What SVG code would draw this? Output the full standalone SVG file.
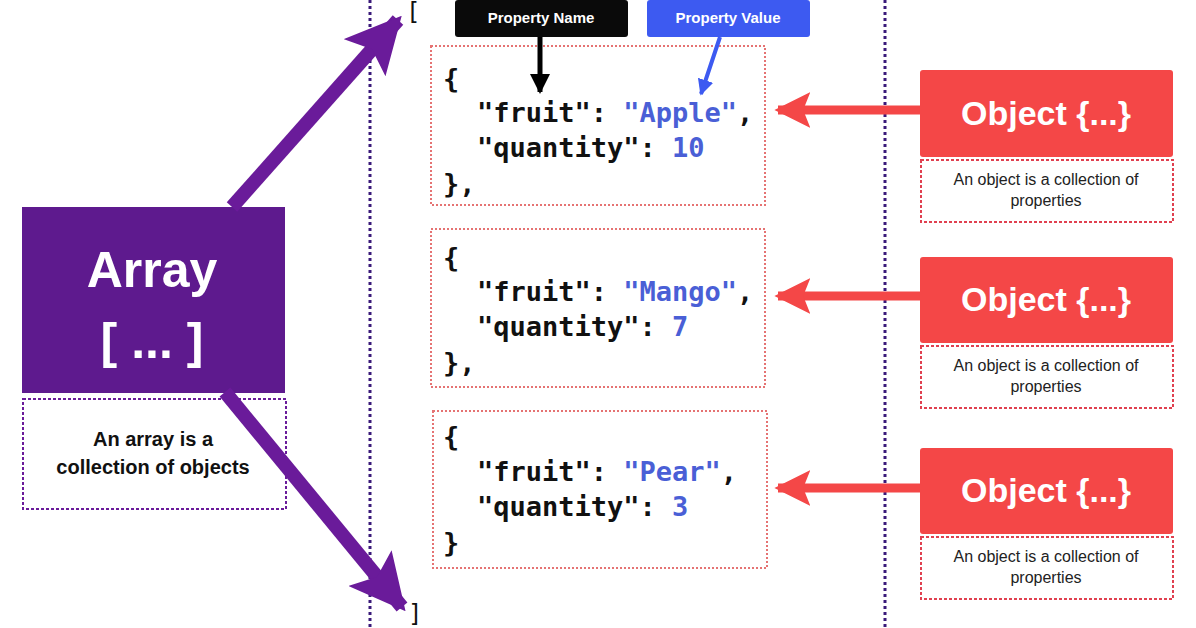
<svg xmlns="http://www.w3.org/2000/svg" width="1196" height="628" viewBox="0 0 1196 628">
<defs>
<style>
.code{font-family:"DejaVu Sans Mono","Liberation Mono",monospace;font-weight:bold;font-size:27px;fill:#111}
.val{fill:#4a5fd6}
.cbox{fill:#fff;stroke:#e57373;stroke-width:2;stroke-dasharray:2 2}
.obj{fill:#f44747}
.objt{font-family:"Liberation Sans",Arial,sans-serif;font-weight:bold;font-size:34px;fill:#fff;text-anchor:middle}
.cap{font-family:"Liberation Sans",Arial,sans-serif;font-size:16px;fill:#222;text-anchor:middle}
.capbox{fill:#fff;stroke:#e04050;stroke-width:2;stroke-dasharray:3 2}
.vline{stroke:#3a1a7a;stroke-width:3;stroke-dasharray:3 3}
.red{stroke:#f44747;stroke-width:9;fill:none}
.pur{stroke:#6a1b9a;stroke-width:14;fill:none}
.lbl{font-family:"Liberation Sans",Arial,sans-serif;font-weight:bold;font-size:15px;fill:#fff;text-anchor:middle}
</style>
<marker id="ar" viewBox="0 0 10 10" refX="9" refY="5" markerWidth="4" markerHeight="4" orient="auto"><path d="M0,0L10,5L0,10L2,5z" fill="#f44747"/></marker>
<marker id="ap" viewBox="0 0 10 10" refX="9" refY="5" markerWidth="4" markerHeight="4" orient="auto"><path d="M0,0L10,5L0,10L2,5z" fill="#6a1b9a"/></marker>
<marker id="ak" viewBox="0 0 10 10" refX="9" refY="5" markerWidth="4" markerHeight="4" orient="auto"><path d="M0,0L10,5L0,10z" fill="#000"/></marker>
<marker id="ab" viewBox="0 0 10 10" refX="9" refY="5" markerWidth="4" markerHeight="4" orient="auto"><path d="M0,0L10,5L0,10z" fill="#3d5af1"/></marker>
</defs>
<rect width="1196" height="628" fill="#fff"/>
<line class="vline" x1="370" y1="0" x2="370" y2="628"/>
<line class="vline" x1="885" y1="0" x2="885" y2="628"/>
<text x="406" y="20" class="code" style="font-weight:normal;font-size:24px">[</text>
<text x="408" y="622" class="code" style="font-weight:normal;font-size:24px">]</text>

<g id="array">
<rect x="22" y="207" width="263" height="186" fill="#5e1a8e"/>
<text x="152" y="287" class="objt" style="font-size:50px">Array</text>
<text x="152" y="358" class="objt" style="font-size:50px">[ ... ]</text>
<rect x="23" y="399" width="263" height="110" fill="#fff" stroke="#6a1b9a" stroke-width="2" stroke-dasharray="3 2"/>
<text x="153" y="446" class="cap" style="font-size:20px;fill:#111;font-weight:bold">An array is a</text>
<text x="153" y="474" class="cap" style="font-size:20px;fill:#111;font-weight:bold">collection of objects</text>
</g>

<g id="propname"><rect x="455" y="0" width="173" height="37" rx="3" fill="#0a0a0a"/><text x="541" y="23" class="lbl">Property Name</text></g>
<g id="propvalue"><rect x="647" y="0" width="163" height="37" rx="3" fill="#3d5af1"/><text x="728" y="23" class="lbl">Property Value</text></g>

<g id="obj1code">
<rect class="cbox" x="431" y="46" width="334" height="159"/>
<text class="code" x="443" y="88">{</text>
<text class="code" x="477" y="122">"fruit": <tspan class="val">"Apple"</tspan>,</text>
<text class="code" x="477" y="157">"quantity": <tspan class="val">10</tspan></text>
<text class="code" x="443" y="193">},</text>
</g>
<g id="obj2code">
<rect class="cbox" x="431" y="229" width="334" height="158"/>
<text class="code" x="443" y="267">{</text>
<text class="code" x="477" y="301">"fruit": <tspan class="val">"Mango"</tspan>,</text>
<text class="code" x="477" y="336">"quantity": <tspan class="val">7</tspan></text>
<text class="code" x="443" y="372">},</text>
</g>
<g id="obj3code">
<rect class="cbox" x="433" y="411" width="334" height="157"/>
<text class="code" x="443" y="446">{</text>
<text class="code" x="477" y="481">"fruit": <tspan class="val">"Pear"</tspan>,</text>
<text class="code" x="477" y="516">"quantity": <tspan class="val">3</tspan></text>
<text class="code" x="443" y="552">}</text>
</g>

<g id="object1">
<rect class="obj" x="920" y="70" width="253" height="87" rx="3"/>
<text class="objt" x="1046" y="125">Object {...}</text>
<rect class="capbox" x="921" y="160" width="252" height="62"/>
<text class="cap" x="1046" y="185">An object is a collection of</text>
<text class="cap" x="1046" y="206">properties</text>
</g>
<g id="object2">
<rect class="obj" x="920" y="257" width="253" height="86" rx="3"/>
<text class="objt" x="1046" y="311">Object {...}</text>
<rect class="capbox" x="921" y="346" width="252" height="62"/>
<text class="cap" x="1046" y="371">An object is a collection of</text>
<text class="cap" x="1046" y="392">properties</text>
</g>
<g id="object3">
<rect class="obj" x="920" y="448" width="253" height="86" rx="3"/>
<text class="objt" x="1046" y="502">Object {...}</text>
<rect class="capbox" x="921" y="537" width="252" height="62"/>
<text class="cap" x="1046" y="562">An object is a collection of</text>
<text class="cap" x="1046" y="583">properties</text>
</g>

<g id="connectors">
<line class="pur" x1="232" y1="207" x2="398" y2="20" marker-end="url(#ap)"/>
<line class="pur" x1="225" y1="392" x2="402" y2="607" marker-end="url(#ap)"/>
<line class="red" x1="920" y1="110" x2="778" y2="110" marker-end="url(#ar)"/>
<line class="red" x1="920" y1="296" x2="778" y2="296" marker-end="url(#ar)"/>
<line class="red" x1="920" y1="488" x2="778" y2="488" marker-end="url(#ar)"/>
<line x1="540" y1="37" x2="540" y2="92" stroke="#000" stroke-width="5" marker-end="url(#ak)"/>
<line x1="720" y1="37" x2="701" y2="94" stroke="#3d5af1" stroke-width="4" marker-end="url(#ab)"/>
</g>
</svg>
